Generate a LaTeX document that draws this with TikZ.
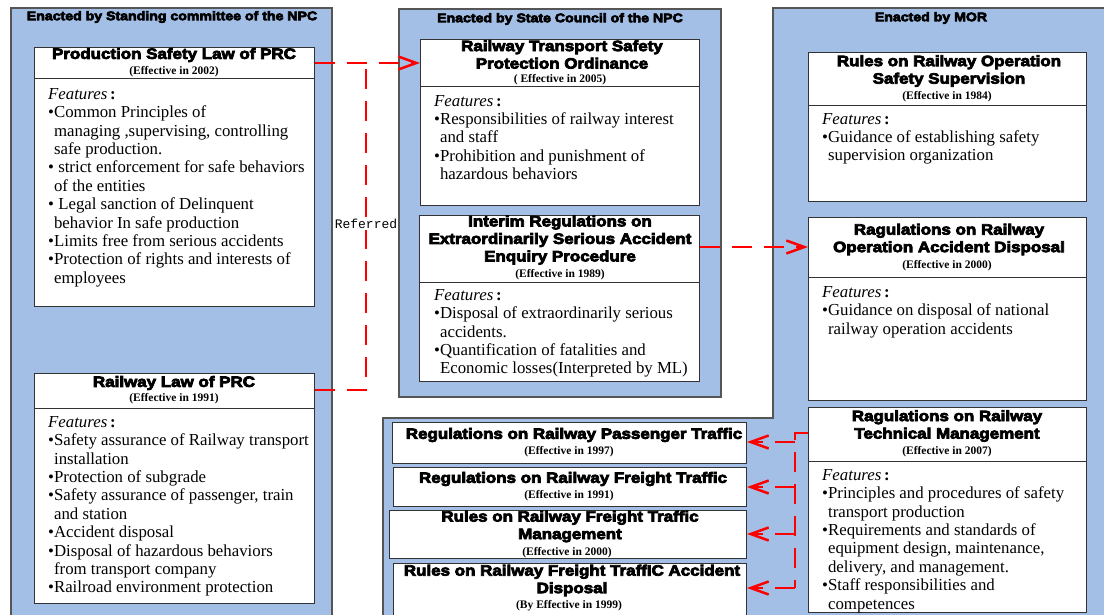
\documentclass[tikz,border=0pt]{standalone}
\usepackage{fontspec}
\setmainfont{Liberation Serif}
\newfontfamily\headfont{Liberation Sans}[FakeBold=5, FakeStretch=1.13]
\newfontfamily\reffont{Liberation Mono}
\usetikzlibrary{positioning, arrows.meta}

\definecolor{panelblue}{RGB}{163,191,230}
\definecolor{panelline}{RGB}{85,85,85}
\newcommand{\cont}{\hphantom{•}}
\newcommand{\feat}{\textit{Features}\,\textbf{:}}

\begin{document}
\begin{tikzpicture}[x=1pt, y=-1pt,
	panel/.style={fill=panelblue, draw=panelline, line width=1.2pt},
	lawbox/.style={draw=black!80, fill=white, line width=1pt, anchor=north west, inner sep=0pt},
	divider/.style={draw=black!80, line width=1pt},
	paneltitle/.style={font=\headfont\bfseries\fontsize{12.5}{15}\selectfont},
	lawtitle/.style={font=\headfont\bfseries\fontsize{15}{17.5}\selectfont, align=center, inner sep=0pt},
	effective/.style={font=\bfseries\fontsize{11.5}{13}\selectfont, inner sep=0pt},
	features/.style={font=\fontsize{16.8}{18.4}\selectfont, align=left, anchor=north west, inner sep=0pt},
	refer/.style={draw=red, dash pattern=on 20pt off 12pt, line width=2.5pt},
	referarrow/.style={refer, -{Straight Barb[length=18pt, width=13pt, line width=2.5pt]}}]
	\clip (0,0) rectangle (1104,615);
	% panels
	\draw[panel] (11,8) rectangle (332,640);
	\draw[panel] (399,9) rectangle (721,397);
	\draw[panel] (1120,8) -- (773,8) -- (773,418) -- (383,418) -- (383,640) -- (1120,640) -- cycle;
	\node[paneltitle] (npc) at (172,17) {Enacted by Standing committee of the NPC};
	\node[paneltitle] (sc) at (560,19) {Enacted by State Council of the NPC};
	\node[paneltitle] (mor) at (931,18) {Enacted by MOR};

	% Standing committee
	\node[lawbox, minimum width=280pt, minimum height=259pt] (psl) at (34,47) {};
	\draw[divider] (psl.west |- 0,79) -- (psl.east |- 0,79);
	\node[lawtitle] (psl-t) at (174,55) {Production Safety Law of PRC};
	\node[effective] (psl-e) at (174,72) {(Effective in 2002)};
	\node[features] (psl-f) at (48,88) {\feat\\
		•Common Principles of\\
		\cont managing ,supervising, controlling\\
		\cont safe production.\\
		• strict enforcement for safe behaviors\\
		\cont of the entities\\
		• Legal sanction of Delinquent\\
		\cont behavior In safe production\\
		•Limits free from serious accidents\\
		•Protection of rights and interests of\\
		\cont employees};

	\node[lawbox, minimum width=280pt, minimum height=230pt] (rl) at (34,373) {};
	\draw[divider] (rl.west |- 0,408) -- (rl.east |- 0,408);
	\node[lawtitle] (rl-t) at (174,383) {Railway Law of PRC};
	\node[effective] (rl-e) at (174,399) {(Effective in 1991)};
	\node[features] (rl-f) at (48,416) {\feat\\
		•Safety assurance of Railway transport\\
		\cont installation\\
		•Protection of subgrade\\
		•Safety assurance of passenger, train\\
		\cont and station\\
		•Accident disposal\\
		•Disposal of hazardous behaviors\\
		\cont from transport company\\
		•Railroad environment protection};

	% State Council
	\node[lawbox, minimum width=279pt, minimum height=166pt] (rtspo) at (420,39) {};
	\draw[divider] (rtspo.west |- 0,87) -- (rtspo.east |- 0,87);
	\node[lawtitle] (rtspo-t) at (562,54.5) {Railway Transport Safety\\Protection Ordinance};
	\node[effective] (rtspo-e) at (560,80) {( Effective in 2005)};
	\node[features] (rtspo-f) at (434,95) {\feat\\
		•Responsibilities of railway interest\\
		\cont and staff\\
		•Prohibition and punishment of\\
		\cont hazardous behaviors};

	\node[lawbox, minimum width=280pt, minimum height=166pt] (irs) at (419,215) {};
	\draw[divider] (irs.west |- 0,282) -- (irs.east |- 0,282);
	\node[lawtitle] (irs-t) at (560,240) {Interim Regulations on\\Extraordinarily Serious Accident\\Enquiry Procedure};
	\node[effective] (irs-e) at (560,275) {(Effective in 1989)};
	\node[features] (irs-f) at (434,289) {\feat\\
		•Disposal of extraordinarily serious\\
		\cont accidents.\\
		•Quantification of fatalities and\\
		\cont Economic losses(Interpreted by ML)};

	% MOR
	\node[lawbox, minimum width=278pt, minimum height=149pt] (ross) at (808,52) {};
	\draw[divider] (ross.west |- 0,106) -- (ross.east |- 0,106);
	\node[lawtitle] (ross-t) at (949,71) {Rules on Railway Operation\\Safety Supervision};
	\node[effective] (ross-e) at (947,97) {(Effective in 1984)};
	\node[features] (ross-f) at (822,113) {\feat\\
		•Guidance of establishing safety\\
		\cont supervision organization};

	\node[lawbox, minimum width=278pt, minimum height=183pt] (road) at (808,217) {};
	\draw[divider] (road.west |- 0,277) -- (road.east |- 0,277);
	\node[lawtitle] (road-t) at (949,239.5) {Ragulations on Railway\\Operation Accident Disposal};
	\node[effective] (road-e) at (947,266) {(Effective in 2000)};
	\node[features] (road-f) at (822,286) {\feat\\
		•Guidance on disposal of national\\
		\cont railway operation accidents};

	\node[lawbox, minimum width=278pt, minimum height=205pt] (rtm) at (808,407) {};
	\draw[divider] (rtm.west |- 0,461) -- (rtm.east |- 0,461);
	\node[lawtitle] (rtm-t) at (947,426) {Ragulations on Railway\\Technical Management};
	\node[effective] (rtm-e) at (947,452) {(Effective in 2007)};
	\node[features] (rtm-f) at (822,469) {\feat\\
		•Principles and procedures of safety\\
		\cont transport production\\
		•Requirements and standards of\\
		\cont equipment design, maintenance,\\
		\cont delivery, and management.\\
		•Staff responsibilities and\\
		\cont competences};

	\node[lawbox, minimum width=354pt, minimum height=41pt] (rpt) at (392,422) {};
	\node[lawtitle] (rpt-t) at (574,435) {Regulations on Railway Passenger Traffic};
	\node[effective] (rpt-e) at (569,452) {(Effective in 1997)};
	\node[lawbox, minimum width=353pt, minimum height=39pt] (rft) at (393,467) {};
	\node[lawtitle] (rft-t) at (573,479) {Regulations on Railway Freight Traffic};
	\node[effective] (rft-e) at (569,496) {(Effective in 1991)};
	\node[lawbox, minimum width=357pt, minimum height=48pt] (rfm) at (389,510) {};
	\node[lawtitle] (rfm-t) at (570,526.5) {Rules on Railway Freight Traffic\\Management};
	\node[effective] (rfm-e) at (567,553) {(Effective in 2000)};
	\node[lawbox, minimum width=353pt, minimum height=60pt] (rfad) at (393,563) {};
	\node[lawtitle] (rfad-t) at (572,580.5) {Rules on Railway Freight TraffIC Accident\\Disposal};
	\node[effective] (rfad-e) at (569,606) {(By Effective in 1999)};

	% references
	\coordinate (split) at (366,63);
	\draw[referarrow] (psl.east |- split) -- (rtspo.west |- split);
	\draw[refer] (rl.east |- 0,390) -| (split);
	\node[font=\reffont\fontsize{13}{15}\selectfont, fill=white, inner sep=1pt] (referred) at (366,224) {Referred};
	\draw[referarrow] (irs.east |- 0,247) -- (road.west |- 0,247);
	\coordinate (fork) at (795,433);
	\draw[refer] (rtm.west |- fork) -- (fork) -- (fork |- 0,588);
	\draw[referarrow] (fork |- 0,442) -- (rpt.east |- 0,442);
	\draw[referarrow] (fork |- 0,487) -- (rft.east |- 0,487);
	\draw[referarrow] (fork |- 0,534) -- (rfm.east |- 0,534);
	\draw[referarrow] (fork |- 0,588) -- (rfad.east |- 0,588);
\end{tikzpicture}
\end{document}
